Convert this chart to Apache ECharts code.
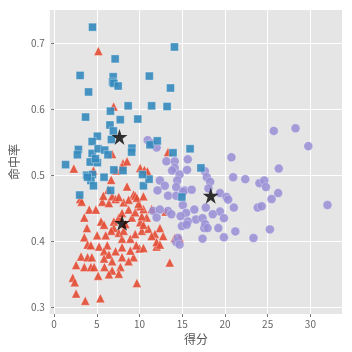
<!DOCTYPE html>
<html><head><meta charset="utf-8">
<script src="https://cdn.jsdelivr.net/npm/echarts@6/dist/echarts.min.js"></script>
<style>html,body{margin:0;padding:0;background:#fff}#c{width:352px;height:352px}</style>
</head><body><div id="c"></div>
<script>
const xTicks = [0, 5, 10, 15, 20, 25, 30];
const yTicks = [0.3, 0.4, 0.5, 0.6, 0.7];
const xName = '得分';
const yName = '命中率';

const cluster0 = [[5.19,0.688],[6.97,0.604],[2.31,0.510],[4.61,0.507],[6.69,0.493],[7.31,0.507],[8.07,0.518],[8.54,0.521],[7.96,0.513],[10.08,0.511],[10.58,0.508],[10.92,0.506],[13.34,0.535],[6.8,0.532],[6.34,0.478],[8.54,0.483],[9.31,0.471],[3.05,0.464],[3.23,0.460],[4.12,0.448],[4.89,0.448],[5.65,0.460],[6.42,0.458],[6.8,0.468],[3.54,0.436],[5.5,0.430],[5.85,0.425],[7.0,0.430],[7.0,0.420],[6.69,0.416],[3.85,0.420],[3.54,0.406],[5.04,0.409],[6.04,0.409],[3.92,0.395],[4.31,0.394],[5.27,0.392],[6.23,0.394],[5.85,0.385],[6.42,0.380],[7.2,0.385],[3.16,0.377],[3.92,0.376],[4.43,0.376],[5.85,0.374],[6.8,0.370],[2.58,0.364],[3.54,0.361],[4.31,0.361],[4.69,0.361],[5.9,0.361],[6.8,0.356],[7.77,0.361],[6.42,0.350],[7.58,0.351],[5.16,0.348],[2.19,0.345],[2.42,0.338],[9.69,0.337],[2.58,0.321],[3.65,0.310],[5.42,0.314],[7.96,0.376],[9.31,0.376],[8.73,0.370],[10.0,0.389],[10.46,0.390],[12.0,0.392],[7.96,0.391],[8.93,0.386],[9.62,0.394],[7.96,0.404],[8.93,0.404],[9.5,0.411],[10.27,0.416],[11.04,0.419],[12.39,0.420],[11.81,0.411],[11.42,0.408],[12.77,0.408],[12.0,0.399],[12.39,0.395],[14.12,0.405],[14.69,0.405],[13.54,0.368],[7.58,0.413],[8.15,0.416],[8.35,0.426],[7.58,0.436],[7.96,0.443],[8.73,0.448],[9.11,0.436],[9.5,0.444],[10.08,0.429],[10.46,0.425],[10.84,0.436],[10.27,0.438],[11.42,0.449],[10.46,0.449],[10.08,0.453],[9.88,0.457],[8.15,0.459],[7.2,0.464],[5.77,0.469],[7.58,0.467],[8.73,0.463],[9.5,0.469],[9.69,0.466],[10.46,0.468],[13.06,0.445]];

const cluster1 = [[10.96,0.553],[11.42,0.548],[12.0,0.542],[13.15,0.521],[14.12,0.521],[14.12,0.511],[15.65,0.524],[13.81,0.507],[15.57,0.508],[14.69,0.501],[12.39,0.492],[14.42,0.492],[12.96,0.484],[12.11,0.477],[14.30,0.482],[15.27,0.477],[16.11,0.478],[13.34,0.469],[14.30,0.469],[17.65,0.506],[11.61,0.446],[13.34,0.446],[13.73,0.441],[12.0,0.436],[14.30,0.399],[15.07,0.455],[15.46,0.443],[16.42,0.448],[16.61,0.433],[15.65,0.430],[14.96,0.423],[17.38,0.435],[17.58,0.420],[17.38,0.404],[12.39,0.448],[14.5,0.405],[14.69,0.395],[17.76,0.451],[20.96,0.497],[22.38,0.494],[24.04,0.488],[24.61,0.492],[24.8,0.482],[19.42,0.473],[20.18,0.467],[20.38,0.463],[25.46,0.464],[26.23,0.473],[21.04,0.451],[23.84,0.451],[24.3,0.453],[32.0,0.455],[19.42,0.445],[18.57,0.441],[19.88,0.435],[14.81,0.438],[15.52,0.425],[17.69,0.426],[17.96,0.420],[19.23,0.420],[21.22,0.415],[19.88,0.406],[23.34,0.405],[25.26,0.418],[17.88,0.497],[18.27,0.490],[18.07,0.480],[15.11,0.475],[25.72,0.567],[28.26,0.571],[29.76,0.544],[20.76,0.527],[26.3,0.510]];

const cluster2 = [[4.5,0.724],[7.15,0.676],[3.05,0.651],[6.92,0.649],[6.85,0.641],[7.0,0.639],[7.5,0.635],[4.04,0.626],[14.09,0.694],[11.15,0.650],[13.63,0.632],[11.42,0.605],[13.23,0.604],[8.67,0.605],[6.6,0.597],[7.75,0.584],[9.8,0.585],[3.69,0.588],[6.54,0.576],[6.94,0.567],[5.07,0.559],[4.46,0.551],[6.71,0.554],[11.23,0.546],[12.08,0.552],[2.85,0.539],[2.73,0.531],[4.46,0.533],[5.16,0.540],[5.93,0.538],[6.31,0.531],[9.11,0.541],[9.08,0.535],[1.35,0.516],[4.23,0.520],[5.07,0.519],[4.84,0.525],[7.0,0.508],[13.92,0.534],[3.81,0.500],[4.5,0.501],[4.31,0.492],[4.61,0.484],[3.0,0.470],[6.62,0.477],[5.85,0.497],[10.46,0.484],[11.12,0.494],[10.35,0.501],[8.07,0.507],[15.92,0.540],[17.19,0.511],[14.96,0.467],[3.92,0.497]];

const centroids = [[7.66,0.558],[7.96,0.428],[18.34,0.469]];

const font = "'Noto Sans CJK SC', 'DejaVu Sans', sans-serif";
const star = 'path://M50,0 L61.8,36.2 L100,36.2 L69.1,58.8 L80.9,95.1 L50,72.7 L19.1,95.1 L30.9,58.8 L0,36.2 L38.2,36.2 Z';

const chart = echarts.init(document.getElementById('c'), null, {renderer: 'canvas'});
chart.setOption({
  animation: false,
  backgroundColor: '#ffffff',
  grid: {left: 45, right: 10, top: 10, bottom: 38, show: true, backgroundColor: '#E5E5E5', borderWidth: 0},
  xAxis: {
    type: 'value', min: -0.5, max: 33.7,
    name: xName, nameLocation: 'middle', nameGap: 19,
    nameTextStyle: {fontFamily: font, fontSize: 12, color: '#555'},
    axisLine: {show: false},
    axisTick: {show: true, customValues: xTicks, length: 3, lineStyle: {color: '#777'}},
    axisLabel: {customValues: xTicks, fontFamily: font, fontSize: 10, color: '#666', margin: 5},
    splitLine: {show: true, lineStyle: {color: '#ffffff', width: 1}}
  },
  yAxis: {
    type: 'value', min: 0.29, max: 0.75,
    name: yName, nameLocation: 'middle', nameGap: 29,
    nameTextStyle: {fontFamily: font, fontSize: 12, color: '#555'},
    axisLine: {show: false},
    axisTick: {show: true, customValues: yTicks, length: 3, lineStyle: {color: '#777'}},
    axisLabel: {customValues: yTicks, fontFamily: font, fontSize: 10, color: '#666', margin: 5,
      formatter: v => v.toFixed(1)},
    splitLine: {show: true, lineStyle: {color: '#ffffff', width: 1}}
  },
  series: [
    {type: 'scatter', data: cluster0, symbol: 'triangle', symbolSize: 9,
      itemStyle: {color: '#E24A33', opacity: 0.9, borderColor: 'rgba(255,255,255,0.35)', borderWidth: 1}},
    {type: 'scatter', data: cluster1, symbol: 'circle', symbolSize: 9,
      itemStyle: {color: '#988ED5', opacity: 0.85, borderColor: 'rgba(255,255,255,0.35)', borderWidth: 1}},
    {type: 'scatter', data: cluster2, symbol: 'rect', symbolSize: 8,
      itemStyle: {color: '#348ABD', opacity: 0.9, borderColor: 'rgba(255,255,255,0.35)', borderWidth: 1}},
    {type: 'scatter', data: centroids, symbol: star, symbolSize: 16,
      itemStyle: {color: '#000000'}, z: 5}
  ]
});
</script></body></html>
